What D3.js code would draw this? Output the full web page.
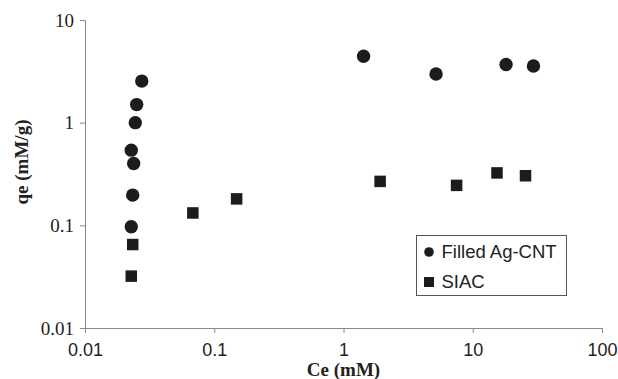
<!DOCTYPE html>
<html>
<head>
<meta charset="utf-8">
<script src="https://cdn.jsdelivr.net/npm/d3@7"></script>
<style>
  body { margin: 0; background: #fff; }
  svg { display: block; }
</style>
</head>
<body>
<div id="chart"></div>
<script>
// Filled Ag-CNT (circles)
const cntCe = [0.0275, 0.0251, 0.0245, 0.0228, 0.0238, 0.0234, 0.0228, 1.43, 5.2, 18.1, 29.5];
const cntQe = [2.54, 1.50, 1.00, 0.54, 0.40, 0.197, 0.097, 4.44, 2.98, 3.68, 3.56];
// SIAC (squares)
const siacCe = [0.0234, 0.0228, 0.0683, 0.149, 1.92, 7.5, 15.4, 25.6];
const siacQe = [0.065, 0.032, 0.132, 0.181, 0.268, 0.245, 0.324, 0.304];

const xTicks = [0.01, 0.1, 1, 10, 100];
const yTicks = [0.01, 0.1, 1, 10];
const seriesNames = ["Filled Ag-CNT", "SIAC"];

const W = 618, H = 379;
const margin = { top: 20, right: 16, bottom: 51, left: 85 };
const width = W - margin.left - margin.right;
const height = H - margin.top - margin.bottom;

const svg = d3.select("#chart").append("svg")
    .attr("width", W)
    .attr("height", H);

const g = svg.append("g")
    .attr("transform", `translate(${margin.left},${margin.top})`);

const x = d3.scaleLog().domain([0.01, 100]).range([0, width]);
const y = d3.scaleLog().domain([0.01, 10]).range([height, 0]);

const axisColor = "#8a8a8a";
const markColor = "#1c1c1c";

// Axes
const xAxis = g.append("g")
    .attr("transform", `translate(0,${height})`)
    .call(d3.axisBottom(x).tickValues(xTicks).tickFormat(d => String(d)).tickSizeOuter(0).tickSize(5).tickPadding(10));
xAxis.selectAll("text")
    .style("font-family", "Arial, 'Liberation Sans', sans-serif")
    .style("font-size", "18px")
    .attr("fill", "#222");

const yAxis = g.append("g")
    .call(d3.axisLeft(y).tickValues(yTicks).tickFormat(d => String(d)).tickSizeOuter(0).tickSize(5).tickPadding(6));
yAxis.selectAll("text")
    .style("font-family", "'Times New Roman', 'Liberation Serif', serif")
    .style("font-size", "19px")
    .attr("fill", "#222");

g.selectAll(".domain, .tick line").attr("stroke", axisColor);

// Axis titles
g.append("text")
    .attr("x", width / 2)
    .attr("y", height + 48)
    .attr("text-anchor", "middle")
    .style("font-family", "'Times New Roman', 'Liberation Serif', serif")
    .style("font-size", "19px")
    .style("font-weight", "bold")
    .attr("fill", "#222")
    .text("Ce (mM)");

g.append("text")
    .attr("transform", `translate(${-margin.left + 28},${height / 2 - 12}) rotate(-90)`)
    .attr("text-anchor", "middle")
    .style("font-family", "'Times New Roman', 'Liberation Serif', serif")
    .style("font-size", "19px")
    .style("font-weight", "bold")
    .attr("fill", "#222")
    .text("qe (mM/g)");

// Points
const cnt = cntCe.map((c, i) => ({ ce: c, qe: cntQe[i] }));
const siac = siacCe.map((c, i) => ({ ce: c, qe: siacQe[i] }));

g.selectAll(".cnt")
    .data(cnt)
    .enter()
    .append("circle")
    .attr("class", "cnt")
    .attr("cx", d => x(d.ce))
    .attr("cy", d => y(d.qe))
    .attr("r", 6.7)
    .attr("fill", markColor);

const sq = 11.5;
g.selectAll(".siac")
    .data(siac)
    .enter()
    .append("rect")
    .attr("class", "siac")
    .attr("x", d => x(d.ce) - sq / 2)
    .attr("y", d => y(d.qe) - sq / 2)
    .attr("width", sq)
    .attr("height", sq)
    .attr("fill", markColor);

// Legend
const legend = svg.append("g").attr("transform", "translate(416.5,235.5)");
legend.append("rect")
    .attr("width", 150)
    .attr("height", 60)
    .attr("fill", "#fff")
    .attr("stroke", "#555");

seriesNames.forEach((name, i) => {
    const cy = 16.5 + i * 30;
    if (i === 0) {
        legend.append("circle").attr("cx", 12.5).attr("cy", cy).attr("r", 4.8).attr("fill", markColor);
    } else {
        legend.append("rect").attr("x", 7.5).attr("y", cy - 5).attr("width", 10).attr("height", 10).attr("fill", markColor);
    }
    legend.append("text")
        .attr("x", 25)
        .attr("y", cy)
        .attr("dy", "0.35em")
        .style("font-family", "Arial, 'Liberation Sans', sans-serif")
        .style("font-size", "18.5px")
        .attr("fill", "#222")
        .text(name);
});
</script>
</body>
</html>
